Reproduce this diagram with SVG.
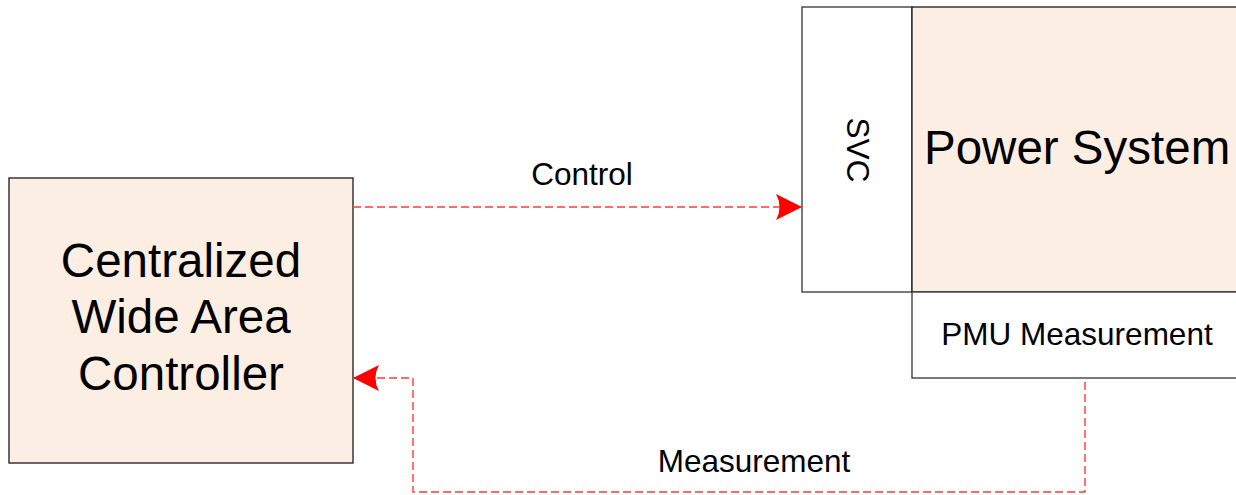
<svg xmlns="http://www.w3.org/2000/svg" width="1236" height="495" viewBox="0 0 1236 495">
<defs>
<style>
.box{fill:#FCEEE3;stroke:#1a1a1a;stroke-width:1.3}
.wbox{fill:#ffffff;stroke:#333;stroke-width:1.3}
.big{font-family:"Liberation Sans",Arial,sans-serif;font-size:47.5px;fill:#000}
.small{font-family:"Liberation Sans",Arial,sans-serif;font-size:31.5px;fill:#000}
.conn{fill:none;stroke:#FF3B3B;stroke-width:1.4;stroke-dasharray:8 4}
.head{fill:#FF0000;stroke:none}
</style>
<marker id="arr" viewBox="0 0 26 26" refX="26" refY="13" markerWidth="26" markerHeight="26" markerUnits="userSpaceOnUse" orient="auto">
<path class="head" d="M0,0 L26,13 L0,26 Q7,13 0,0 Z"/>
</marker>
</defs>
<rect width="1236" height="495" fill="#ffffff"/>
<g id="controller">
<rect class="box" x="9" y="178" width="344" height="285"/>
<text class="big" x="181" y="277" text-anchor="middle">Centralized</text>
<text class="big" x="181" y="333" text-anchor="middle">Wide Area</text>
<text class="big" x="181" y="390" text-anchor="middle">Controller</text>
</g>
<g id="svc">
<rect class="wbox" x="802" y="7" width="110" height="285"/>
<text class="small" x="0" y="0" text-anchor="middle" transform="translate(847,150) rotate(90)">SVC</text>
</g>
<g id="power-system">
<rect class="box" x="912" y="7" width="330" height="285"/>
<text class="big" x="924" y="164">Power System</text>
</g>
<g id="pmu">
<rect class="wbox" x="912" y="292" width="330" height="86"/>
<text class="small" x="1077" y="345" text-anchor="middle">PMU Measurement</text>
</g>
<g id="connectors">
<path class="conn" d="M353,207 L802,207" marker-end="url(#arr)"/>
<path class="conn" d="M1085,382 L1085,492 L413,492 L413,378 L353,378" marker-end="url(#arr)"/>
<text class="small" x="582" y="185" text-anchor="middle">Control</text>
<text class="small" x="754" y="472" text-anchor="middle">Measurement</text>
</g>
</svg>
